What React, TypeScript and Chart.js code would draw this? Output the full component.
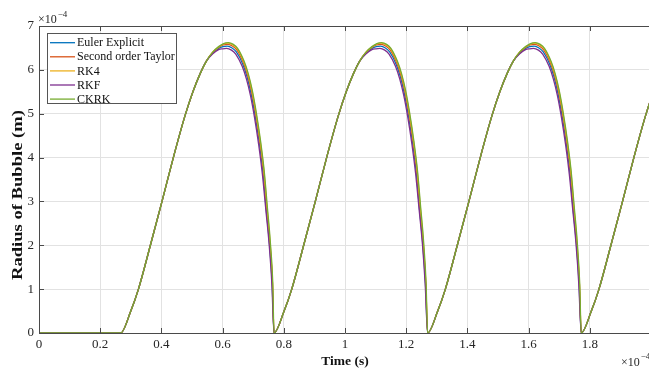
import React, { useEffect, useRef } from "react";
import { Chart, registerables } from "chart.js";

Chart.register(...registerables);

// ---- data (radius in units of 1e-4 m, time in units of 1e-4 s) ----
const seriesNames = ["Euler Explicit", "Second order Taylor", "RK4", "RKF", "CKRK"];
const seriesColors = ["#0072BD", "#D95319", "#EDB120", "#7E2F8E", "#77AC30"];

const xTickValues = [0, 0.2, 0.4, 0.6, 0.8, 1, 1.2, 1.4, 1.6, 1.8, 2];
const xTickLabels = ["0", "0.2", "0.4", "0.6", "0.8", "1", "1.2", "1.4", "1.6", "1.8", "2"];
const yTickValues = [0, 1, 2, 3, 4, 5, 6, 7];
const yTickLabels = ["0", "1", "2", "3", "4", "5", "6", "7"];

// idle phase before the first growth
const idleT = [0];
const idleR = [0];

// start times of each growth cycle
const cycleStarts = [0.267, 0.768, 1.27, 1.772];

// growth part (shared by all methods), time measured from cycle start
const riseDt = [0, 0.033, 0.058, 0.097, 0.135, 0.172, 0.21, 0.236, 0.26, 0.28];
const riseR = [0, 0.5, 1, 2, 3, 4, 4.95, 5.5, 5.92, 6.2];

// peak and collapse part per method, time measured from cycle start
const eulerTopDt = [0.3, 0.32, 0.334, 0.348, 0.364, 0.378, 0.399, 0.413, 0.426, 0.439, 0.453, 0.465, 0.475, 0.486, 0.495];
const eulerTopR = [6.38, 6.49, 6.53, 6.54, 6.5, 6.41, 6.13, 5.84, 5.46, 4.97, 4.33, 3.65, 2.86, 2.05, 1.13];
const taylorTopDt = [0.3, 0.32, 0.335, 0.35, 0.366, 0.38, 0.401, 0.415, 0.428, 0.441, 0.455, 0.467, 0.477, 0.487, 0.496];
const taylorTopR = [6.39, 6.51, 6.57, 6.58, 6.54, 6.45, 6.16, 5.87, 5.5, 5.0, 4.35, 3.67, 2.87, 2.06, 1.13];
const rk4TopDt = [0.3, 0.32, 0.336, 0.351, 0.367, 0.381, 0.402, 0.416, 0.429, 0.442, 0.456, 0.468, 0.478, 0.488, 0.496];
const rk4TopR = [6.4, 6.52, 6.59, 6.61, 6.57, 6.48, 6.19, 5.9, 5.52, 5.02, 4.37, 3.69, 2.88, 2.07, 1.14];
const rkfTopDt = [0.3, 0.32, 0.333, 0.346, 0.362, 0.376, 0.397, 0.411, 0.424, 0.437, 0.451, 0.463, 0.474, 0.485, 0.494];
const rkfTopR = [6.36, 6.46, 6.48, 6.49, 6.45, 6.36, 6.08, 5.79, 5.42, 4.93, 4.29, 3.62, 2.83, 2.03, 1.12];
const ckrkTopDt = [0.3, 0.32, 0.336, 0.352, 0.368, 0.382, 0.403, 0.417, 0.43, 0.443, 0.457, 0.469, 0.479, 0.489, 0.497];
const ckrkTopR = [6.4, 6.53, 6.6, 6.62, 6.58, 6.49, 6.2, 5.91, 5.53, 5.03, 4.38, 3.69, 2.89, 2.07, 1.14];

const topDts = [eulerTopDt, taylorTopDt, rk4TopDt, rkfTopDt, ckrkTopDt];
const topRs = [eulerTopR, taylorTopR, rk4TopR, rkfTopR, ckrkTopR];

const xTitle = "Time (s)";
const yTitle = "Radius of Bubble (m)";

// ---- styling ----
const CW = 700;
const CH = 370;
const VISIBLE_W = 649;
const SERIF = '"Liberation Serif", "Times New Roman", serif';
const AXIS_COLOR = "#4a4a4a";
const GRID_COLOR = "#e2e2e2";
const TEXT_COLOR = "#262626";

const overlay = {
  id: "overlay",
  afterDraw(chart: any) {
    const ctx: CanvasRenderingContext2D = chart.ctx;
    const { left, right, top, bottom } = chart.chartArea;
    const xs = chart.scales.x;
    const ys = chart.scales.y;
    ctx.save();

    // top border + inner tick marks
    ctx.strokeStyle = AXIS_COLOR;
    ctx.lineWidth = 1;
    ctx.beginPath();
    ctx.moveTo(left, top + 0.5);
    ctx.lineTo(right, top + 0.5);
    xTickValues.forEach((v) => {
      const px = Math.round(xs.getPixelForValue(v)) + 0.5;
      ctx.moveTo(px, bottom);
      ctx.lineTo(px, bottom - 5);
      ctx.moveTo(px, top);
      ctx.lineTo(px, top + 5);
    });
    yTickValues.forEach((v) => {
      const py = Math.round(ys.getPixelForValue(v)) + 0.5;
      ctx.moveTo(left, py);
      ctx.lineTo(left + 5, py);
    });
    ctx.stroke();

    // tick labels
    ctx.fillStyle = TEXT_COLOR;
    ctx.font = `13px ${SERIF}`;
    ctx.textAlign = "center";
    ctx.textBaseline = "middle";
    xTickValues.forEach((v, i) => {
      const px = xs.getPixelForValue(v);
      if (px + 4 > VISIBLE_W) return;
      ctx.fillText(xTickLabels[i], px, bottom + 12);
    });
    ctx.textAlign = "right";
    yTickValues.forEach((v, i) => {
      ctx.fillText(yTickLabels[i], left - 5, ys.getPixelForValue(v));
    });

    // axis titles
    ctx.fillStyle = "#111";
    ctx.font = `bold 13.5px ${SERIF}`;
    ctx.textAlign = "center";
    ctx.fillText(xTitle, (left + right) / 2, bottom + 29);

    ctx.save();
    ctx.translate(18, 195);
    ctx.rotate(-Math.PI / 2);
    ctx.font = `bold 14px ${SERIF}`;
    const tw = ctx.measureText(yTitle).width;
    ctx.scale(170 / tw, 1);
    ctx.fillText(yTitle, 0, 0);
    ctx.restore();

    // exponent labels
    ctx.fillStyle = TEXT_COLOR;
    ctx.textAlign = "left";
    ctx.font = `12px ${SERIF}`;
    ctx.fillText("\u00d710", 38, 20);
    let w = ctx.measureText("\u00d710").width;
    ctx.font = `9px ${SERIF}`;
    ctx.fillText("\u22124", 38 + w + 1, 15);

    ctx.font = `12px ${SERIF}`;
    ctx.fillText("\u00d710", 621, 363);
    w = ctx.measureText("\u00d710").width;
    ctx.font = `9px ${SERIF}`;
    ctx.fillText("\u22124", 621 + w + 1, 357);

    // legend
    const bx = 47.5, by = 33.5, bw = 129, bh = 70;
    ctx.fillStyle = "#fff";
    ctx.fillRect(bx, by, bw, bh);
    ctx.strokeStyle = "#555";
    ctx.lineWidth = 1;
    ctx.strokeRect(bx, by, bw, bh);
    ctx.font = `12px ${SERIF}`;
    ctx.textBaseline = "middle";
    seriesNames.forEach((name, i) => {
      const yy = 42.7 + i * 14.1;
      ctx.strokeStyle = seriesColors[i];
      ctx.lineWidth = 1.3;
      ctx.beginPath();
      ctx.moveTo(50, yy);
      ctx.lineTo(75, yy);
      ctx.stroke();
      ctx.fillStyle = "#111";
      ctx.fillText(name, 77, yy + 0.5);
    });

    ctx.restore();
  },
};

export default function App() {
  const ref = useRef<HTMLCanvasElement>(null);

  useEffect(() => {
    const canvas = ref.current;
    if (!canvas) return;

    const datasets = seriesNames.map((name, s) => {
      const pts: { x: number; y: number }[] = idleT.map((t, i) => ({ x: t, y: idleR[i] }));
      cycleStarts.forEach((st) => {
        riseDt.forEach((d, i) => pts.push({ x: st + d, y: riseR[i] }));
        topDts[s].forEach((d, i) => pts.push({ x: st + d, y: topRs[s][i] }));
      });
      return {
        label: name,
        data: pts,
        borderColor: seriesColors[s],
        backgroundColor: seriesColors[s],
        borderWidth: 1.3,
        pointRadius: 0,
        fill: false,
        cubicInterpolationMode: "monotone" as const,
        order: seriesNames.length - s,
      };
    });

    const chart = new Chart(canvas, {
      type: "line",
      data: { datasets },
      options: {
        animation: false,
        responsive: false,
        maintainAspectRatio: false,
        devicePixelRatio: 1,
        layout: { padding: { left: 39, right: CW - 651, top: 26, bottom: CH - 333 } },
        plugins: { legend: { display: false }, tooltip: { enabled: false }, title: { display: false } },
        scales: {
          x: {
            type: "linear",
            min: 0,
            max: 2,
            afterBuildTicks: (sc: any) => {
              sc.ticks = xTickValues.map((v) => ({ value: v }));
            },
            afterFit: (sc: any) => {
              sc.height = 0;
            },
            ticks: { display: false },
            grid: { color: GRID_COLOR, lineWidth: 1, drawTicks: false },
            border: { display: true, color: AXIS_COLOR, width: 1 },
          },
          y: {
            type: "linear",
            min: 0,
            max: 7,
            afterBuildTicks: (sc: any) => {
              sc.ticks = yTickValues.map((v) => ({ value: v }));
            },
            afterFit: (sc: any) => {
              sc.width = 0;
            },
            ticks: { display: false },
            grid: { color: GRID_COLOR, lineWidth: 1, drawTicks: false },
            border: { display: true, color: AXIS_COLOR, width: 1 },
          },
        },
      },
      plugins: [overlay],
    });

    return () => chart.destroy();
  }, []);

  return (
    <div
      style={{
        position: "fixed",
        left: 0,
        top: 0,
        width: VISIBLE_W,
        height: 370,
        overflow: "hidden",
        background: "#fff",
      }}
    >
      <canvas ref={ref} width={CW} height={CH} style={{ width: CW, height: CH, display: "block" }} />
    </div>
  );
}
